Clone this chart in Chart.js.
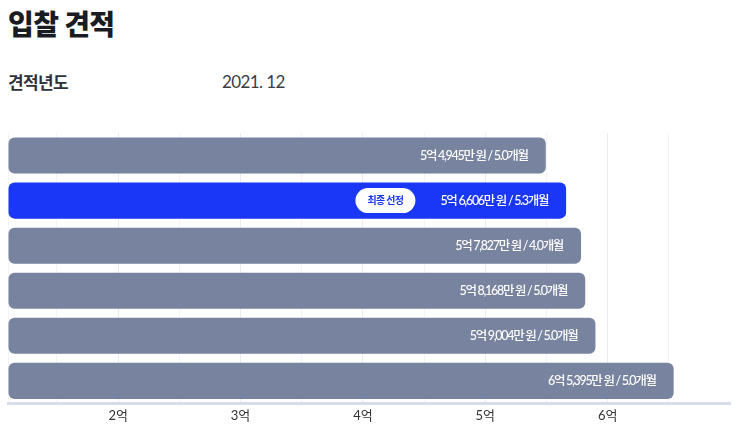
<!DOCTYPE html>
<html>
<head>
<meta charset="utf-8">
<script src="https://cdn.jsdelivr.net/npm/chart.js@4"></script>
<style>
  body { margin: 0; background: #fff; font-family: Lato, "Noto Sans CJK KR", sans-serif; }
  #wrap { position: relative; width: 743px; height: 436px; overflow: hidden; }
  h1 { position: absolute; left: 8px; top: 3px; margin: 0; font-size: 28px; font-weight: 800; color: #1a1c23; letter-spacing: -0.6px; font-family: "Noto Sans CJK KR", sans-serif; }
  .label { position: absolute; left: 8px; top: 69px; font-size: 17px; font-weight: 700; color: #2f323a; font-family: "Noto Sans CJK KR", sans-serif; letter-spacing: -0.6px; }
  .year { position: absolute; left: 222px; top: 71px; font-size: 17px; color: #3a3d45; font-family: Lato, sans-serif; letter-spacing: -0.6px; }
  canvas { position: absolute; left: 0; top: 0; }
</style>
</head>
<body>
<div id="wrap">
  <h1>입찰 견적</h1>
  <div class="label">견적년도</div>
  <div class="year">2021. 12</div>
  <canvas id="chart" width="743" height="436"></canvas>
</div>
<script>
// 입찰 금액 (억 원) / 공사 기간 (개월)
let bids = ["업체1", "업체2", "업체3", "업체4", "업체5", "업체6"];
let amounts = [5.4945, 5.6606, 5.7827, 5.8168, 5.9004, 6.5395];
let months = [5.0, 5.3, 4.0, 5.0, 5.0, 5.0];
let selected = 1;
let xTicks = [1.1, 1.5, 2, 2.5, 3, 3.5, 4, 4.5, 5, 5.5, 6, 6.5];

const gray = "#78849f";
const blue = "#1a37f7";

function fmt(v, m) {
  let eok = Math.floor(v);
  let man = Math.round((v - eok) * 10000);
  return eok + "억 " + man.toLocaleString("en-US") + "만 원 / " + m.toFixed(1) + "개월";
}

const labelPlugin = {
  id: "barLabels",
  afterDatasetsDraw(chart) {
    let ctx = chart.ctx;
    let meta = chart.getDatasetMeta(0);
    ctx.save();
    meta.data.forEach((bar, i) => {
      let text = fmt(amounts[i], months[i]);
      ctx.font = "500 12.5px Lato, 'Noto Sans CJK KR'";
      ctx.letterSpacing = "-1.3px";
      ctx.fillStyle = "#fff";
      ctx.textAlign = "right";
      ctx.textBaseline = "middle";
      let right = bar.x - 18;
      ctx.fillText(text, right, bar.y);
      if (i === selected) {
        let w = ctx.measureText(text).width;
        let pr = right - w - 25;
        let pw = 60, ph = 25;
        ctx.fillStyle = "#fff";
        ctx.beginPath();
        ctx.roundRect(pr - pw, bar.y - ph / 2, pw, ph, ph / 2);
        ctx.fill();
        ctx.font = "bold 10px 'Noto Sans CJK KR'";
        ctx.letterSpacing = "-0.6px";
        ctx.fillStyle = blue;
        ctx.textAlign = "center";
        ctx.fillText("최종 선정", pr - pw / 2, bar.y);
      }
    });
    ctx.restore();
  }
};

new Chart(document.getElementById("chart"), {
  type: "bar",
  data: {
    labels: bids,
    datasets: [{
      data: amounts,
      base: 1.1,
      backgroundColor: amounts.map((v, i) => i === selected ? blue : gray),
      borderRadius: 6,
      borderSkipped: false,
      barPercentage: 0.8,
      categoryPercentage: 1
    }]
  },
  options: {
    indexAxis: "y",
    responsive: false,
    animation: false,
    layout: { padding: { left: 8, right: 13, top: 133, bottom: 7 } },
    plugins: { legend: { display: false }, tooltip: { enabled: false } },
    scales: {
      x: {
        min: 1.1,
        max: 7,
        afterBuildTicks: axis => { axis.ticks = xTicks.map(v => ({ value: v })); },
        grid: {
          drawTicks: false,
          color: c => Number.isInteger(c.tick && c.tick.value) ? "#e8ebf2" : "#f1f3f7",
          lineWidth: 1
        },
        border: { color: "#d6dcea", width: 3 },
        ticks: {
          padding: 5,
          color: "#333",
          font: { size: 13, family: "Lato, 'Noto Sans CJK KR'" },
          callback: v => Number.isInteger(v) ? v + "억" : ""
        }
      },
      y: { display: false }
    }
  },
  plugins: [labelPlugin]
});
</script>
</body>
</html>
